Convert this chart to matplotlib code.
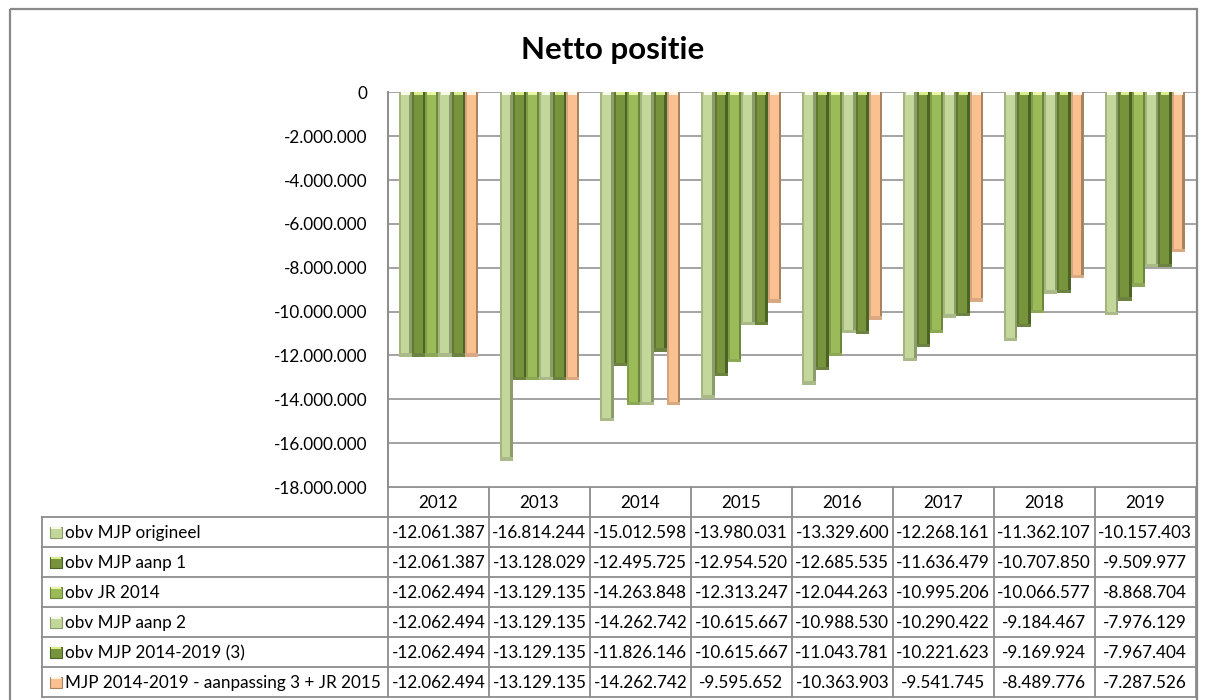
import matplotlib
matplotlib.use("Agg")
import matplotlib.pyplot as plt
from matplotlib.patches import Rectangle
import numpy as np

plt.rcParams['font.family'] = ['Lato', 'DejaVu Sans']

# ---- data -------------------------------------------------------------
years = ["2012", "2013", "2014", "2015", "2016", "2017", "2018", "2019"]

series_names = [
    "obv MJP origineel",
    "obv MJP aanp 1",
    "obv JR 2014",
    "obv MJP aanp 2",
    "obv MJP 2014-2019 (3)",
    "MJP 2014-2019 - aanpassing 3 + JR 2015",
]

mjp_origineel = [-12061387, -16814244, -15012598, -13980031, -13329600, -12268161, -11362107, -10157403]
mjp_aanp1     = [-12061387, -13128029, -12495725, -12954520, -12685535, -11636479, -10707850, -9509977]
jr_2014       = [-12062494, -13129135, -14263848, -12313247, -12044263, -10995206, -10066577, -8868704]
mjp_aanp2     = [-12062494, -13129135, -14262742, -10615667, -10988530, -10290422, -9184467, -7976129]
mjp_2014_2019 = [-12062494, -13129135, -11826146, -10615667, -11043781, -10221623, -9169924, -7967404]
mjp_aanp3_jr  = [-12062494, -13129135, -14262742, -9595652, -10363903, -9541745, -8489776, -7287526]

series_values = [mjp_origineel, mjp_aanp1, jr_2014, mjp_aanp2, mjp_2014_2019, mjp_aanp3_jr]

y_ticks = [0, -2000000, -4000000, -6000000, -8000000, -10000000, -12000000, -14000000, -16000000, -18000000]

# ---- styling ----------------------------------------------------------
# (face, left edge, right edge, bottom bevel, top highlight)
palette = [
    ("#C4D79B", "#A3B47F", "#8D9C6C", "#A9BA88", "#F6FAE6"),
    ("#77933C", "#5F7A2F", "#4C6326", "#6B8240", "#D9EC8E"),
    ("#9BBB59", "#809D48", "#6C873C", "#8CA856", "#EAF6A6"),
    ("#C4D79B", "#A3B47F", "#8D9C6C", "#A9BA88", "#F6FAE6"),
    ("#77933C", "#5F7A2F", "#4C6326", "#6B8240", "#D9EC8E"),
    ("#FAC090", "#D4A47C", "#A9835F", "#D9A983", "#FFF5E8"),
]

W, H = 1205, 700
grid_col = "#9C9C9C"
line_col = "#8C8C8C"

fig = plt.figure(figsize=(W / 100, H / 100), dpi=100)

# overlay axes in pixel coordinates for frame, title and data table
ov = fig.add_axes([0, 0, 1, 1])
ov.set_xlim(0, W)
ov.set_ylim(H, 0)
ov.axis("off")

# plot area geometry (pixels)
px_left, px_right = 388.0, 1195.5
px_top, px_bottom = 92.3, 487.0

ax = fig.add_axes([px_left / W, 1 - px_bottom / H,
                   (px_right - px_left) / W, (px_bottom - px_top) / H])
ax.set_zorder(ov.get_zorder() + 1)
ax.patch.set_alpha(0)

n_cat = len(years)
ax.set_xlim(-0.5, n_cat - 0.5)
ax.set_ylim(-18000000, 0)

px_per_x = (px_right - px_left) / n_cat
units_per_px_y = 18000000 / (px_bottom - px_top)

x = np.arange(n_cat)
n_ser = len(series_values)
bw = 13.3 / px_per_x
edge_l = 2.0 / px_per_x
edge_r = 2.5 / px_per_x
cap_h = 3.0 * units_per_px_y
bot_h = 3.5 * units_per_px_y

for i, vals in enumerate(series_values):
    face, el, er, bot, top = palette[i]
    vals = np.asarray(vals, dtype=float)
    xc = x + (i - (n_ser - 1) / 2) * bw
    ax.bar(xc, vals, width=bw, color=face, linewidth=0, zorder=3)
    ax.bar(xc - bw / 2 + edge_l / 2, vals, width=edge_l, color=el, linewidth=0, zorder=4)
    ax.bar(xc + bw / 2 - edge_r / 2, vals, width=edge_r, color=er, linewidth=0, zorder=4)
    ax.bar(xc, np.full(n_cat, bot_h), bottom=vals, width=bw, color=bot, linewidth=0, zorder=5)
    ax.bar(xc, np.full(n_cat, -cap_h), width=bw - edge_l - edge_r, color=top,
           linewidth=0, zorder=5)

ax.set_yticks(y_ticks)
ax.set_yticklabels([f"{v:,}".replace(",", ".") for v in y_ticks])
ax.tick_params(axis="y", length=0, pad=14.5, labelsize=12.3, labelcolor="#000000")
ax.set_xticks([])
ax.yaxis.grid(True, color=grid_col, linewidth=1.3, zorder=1)
ax.set_axisbelow(True)
for s in ("top", "right", "bottom"):
    ax.spines[s].set_visible(False)
ax.spines["left"].set_color(line_col)
ax.spines["left"].set_linewidth(1.4)

# ---- chart frame and title -------------------------------------------
ov.add_patch(Rectangle((10, 9), 1187, 700, fill=False, edgecolor="#8A8A8A", linewidth=1.6))
ov.text(613, 50, "Netto positie", ha="center", va="center",
        fontsize=22.5, fontweight="bold", color="#000000")

# ---- data table ------------------------------------------------------
tab_left = 42.0
hdr_top, hdr_bot = px_bottom, 517.0
row_h = 30.0
n_rows = len(series_names)
tab_bot = hdr_bot + n_rows * row_h
col_edges = [px_left + k * px_per_x for k in range(n_cat + 1)]

lk = dict(color=line_col, linewidth=1.3, solid_capstyle="projecting")
ov.plot([px_left, px_right], [hdr_top, hdr_top], **lk)
for r in range(n_rows + 1):
    yy = hdr_bot + r * row_h
    ov.plot([tab_left, px_right], [yy, yy], **lk)
for xe in col_edges:
    ov.plot([xe, xe], [hdr_top, tab_bot], **lk)
ov.plot([tab_left, tab_left], [hdr_bot, tab_bot], **lk)

for k, yr in enumerate(years):
    ov.text((col_edges[k] + col_edges[k + 1]) / 2, (hdr_top + hdr_bot) / 2 + 1, yr,
            ha="center", va="center", fontsize=12.3)

for r, (name, vals) in enumerate(zip(series_names, series_values)):
    yc = hdr_bot + r * row_h + row_h / 2 + 1
    face, el, er, bot, top = palette[r]
    ov.add_patch(Rectangle((50, yc - 6.5), 11.5, 11.5, facecolor=face,
                           edgecolor=er, linewidth=0.8))
    ov.add_patch(Rectangle((50.5, yc - 6), 10.5, 2.2, facecolor=top, linewidth=0))
    ov.text(65, yc, name, ha="left", va="center", fontsize=12.3)
    for k, v in enumerate(vals):
        ov.text((col_edges[k] + col_edges[k + 1]) / 2, yc,
                f"{v:,}".replace(",", "."), ha="center", va="center", fontsize=12.3)

fig.savefig("out.png", dpi=100)
